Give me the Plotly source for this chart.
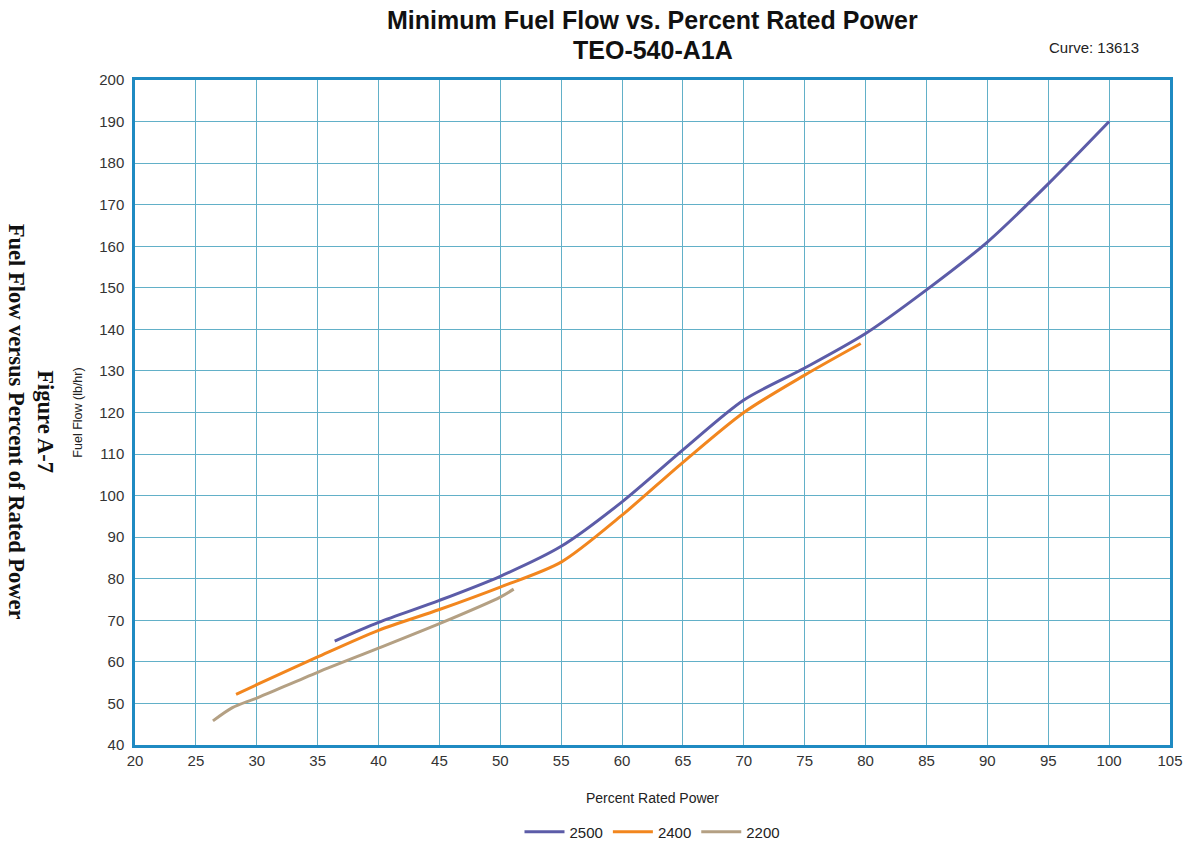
import plotly.graph_objects as go

x_2500 = [36.4, 40, 45, 50, 55, 60, 65, 70, 75, 80, 85, 90, 95, 100]
y_2500 = [65.0, 69.5, 74.8, 80.6, 87.8, 98.5, 111.0, 123.0, 130.7, 139.0, 149.5, 161.0, 175.0, 190.0]

x_2400 = [28.3, 30, 35, 40, 45, 50, 55, 60, 65, 70, 75, 79.6]
y_2400 = [52.2, 54.5, 61.2, 67.6, 72.6, 78.0, 84.0, 95.3, 108.0, 120.0, 129.0, 136.6]

x_2200 = [26.4, 28, 30, 35, 40, 45, 50, 51.1]
y_2200 = [45.8, 49.0, 51.3, 57.5, 63.3, 69.2, 75.6, 77.5]

series = [("2500", x_2500, y_2500, "#5c5ca8"),
          ("2400", x_2400, y_2400, "#f2861e"),
          ("2200", x_2200, y_2200, "#b4a083")]

x_ticks = list(range(20, 106, 5))
y_ticks = list(range(40, 201, 10))

fig = go.Figure()
for name, xs, ys, col in series:
    fig.add_trace(go.Scatter(x=xs, y=ys, mode="lines", name=name,
                             line=dict(color=col, width=3, shape="spline", smoothing=0.8)))

grid = "#62b0c8"
border = "#1f8ac2"
fig.update_layout(
    width=1191, height=844,
    paper_bgcolor="white", plot_bgcolor="white",
    margin=dict(l=135, r=21, t=80, b=99, autoexpand=False),
    font=dict(family="Liberation Sans, Arial, sans-serif", color="#222"),
    showlegend=True,
    legend=dict(orientation="h", x=0.5, xanchor="center", y=-0.131, yanchor="middle",
                font=dict(size=15, color="#222"), itemwidth=40, tracegroupgap=0),
    xaxis=dict(range=[20, 105], tickvals=x_ticks, showgrid=True, gridcolor=grid, gridwidth=1.3,
               showline=True, linecolor=border, linewidth=2.5, mirror=True, zeroline=False,
               ticks="", tickfont=dict(size=15, color="#333"), automargin=False,
               title=dict(text="Percent Rated Power", font=dict(size=14, color="#222"), standoff=26)),
    yaxis=dict(range=[40, 200], tickvals=y_ticks, showgrid=True, gridcolor=grid, gridwidth=1.3,
               showline=True, linecolor=border, linewidth=2.5, mirror=True, zeroline=False,
               ticks="", tickfont=dict(size=15, color="#333"), automargin=False,
               ticklabelstandoff=5,
               title=dict(text="Fuel Flow (lb/hr)", font=dict(size=12.5, color="#222"), standoff=14)),
)

fig.add_annotation(text="<b>Minimum Fuel Flow vs. Percent Rated Power</b>", xref="paper", yref="paper",
                   x=0.5, y=(745 - 20) / 665, xanchor="center", yanchor="middle", showarrow=False,
                   font=dict(family="Liberation Sans, Arial", size=25, color="#111"))
fig.add_annotation(text="<b>TEO-540-A1A</b>", xref="paper", yref="paper",
                   x=0.5, y=(745 - 50) / 665, xanchor="center", yanchor="middle", showarrow=False,
                   font=dict(family="Liberation Sans, Arial", size=25, color="#111"))
fig.add_annotation(text="Curve: 13613", xref="paper", yref="paper", x=(1141 - 135) / 1035,
                   y=(745 - 47) / 665, xanchor="right", yanchor="middle", showarrow=False,
                   font=dict(family="Liberation Sans, Arial", size=15, color="#222"))
fig.add_annotation(text="<b>Figure A-7<br>Fuel Flow versus Percent of Rated Power</b>",
                   xref="paper", yref="paper", x=-0.1005, y=0.486, xanchor="center", yanchor="middle",
                   textangle=90, showarrow=False,
                   font=dict(family="Liberation Serif, Times New Roman, serif", size=22.5, color="#111"))

fig.write_html("out.html")
